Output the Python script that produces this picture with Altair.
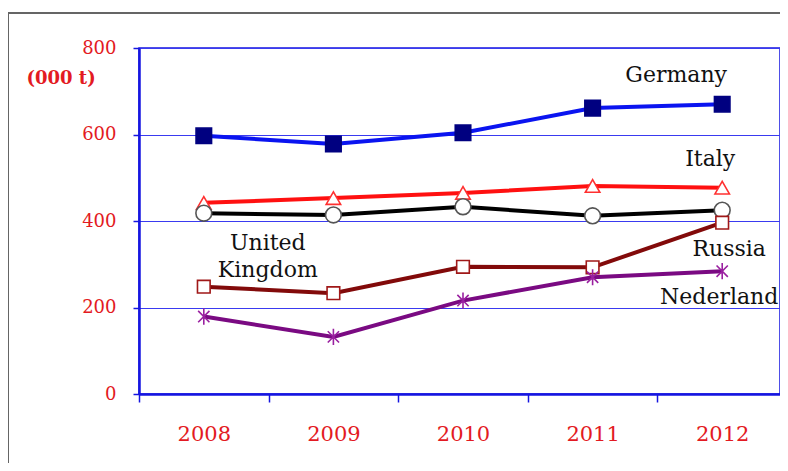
import altair as alt
import pandas as pd

years = ["2008", "2009", "2010", "2011", "2012"]
countries = ["Germany", "Italy", "United Kingdom", "Russia", "Nederland"]
germany = [597, 578, 604, 661, 670]
italy = [442, 453, 465, 481, 477]
united_kingdom = [418, 414, 433, 412, 425]
russia = [248, 233, 294, 293, 396]
nederland = [179, 132, 216, 270, 284]
series = [germany, italy, united_kingdom, russia, nederland]

line_colors = ["#0a14f0", "#ff1010", "#000000", "#820a0a", "#7a0a82"]
shapes = ["square", "triangle-up", "circle", "square",
          "M-0.7,-0.7L0.7,0.7M-0.7,0.7L0.7,-0.7M0,-1L0,1"]
fills = ["#000080", "#ffffff", "#ffffff", "#ffffff", "transparent"]
strokes = ["#000080", "#ff3030", "#555555", "#a01818", "#9a20a0"]
sizes = [240, 210, 250, 160, 260]

label_texts = ["Germany", "Italy", "United", "Kingdom", "Russia", "Nederland"]
label_years = ["2012", "2012", "2008", "2008", "2012", "2012"]
label_values = [721, 527, 333, 270, 319, 208]
label_dx = [-46, -12, 64, 64, 7, -3]

RED = "#e31a22"
BLUE = "#1515e0"
FONT = "DejaVu Serif"

rows = []
for c, vals in zip(countries, series):
    for y, v in zip(years, vals):
        rows.append({"country": c, "year": y, "value": v})
df = pd.DataFrame(rows)

x_scale = alt.Scale(domain=years, range=[0, 648])
x_enc = alt.X("year:N", sort=years, scale=x_scale,
              axis=alt.Axis(title=None, labelAngle=0, tickBand="extent",
                            labelColor=RED, labelFont=FONT, labelFontSize=21,
                            labelPadding=21, tickSize=8, tickColor=BLUE,
                            tickWidth=1.5, domainColor=BLUE, domainWidth=2.5,
                            grid=False))
y_enc = alt.Y("value:Q", scale=alt.Scale(domain=[0, 800], nice=False),
              axis=alt.Axis(values=[0, 200, 400, 600, 800], title="(000 t)",
                            titleAngle=0, titleAlign="left",
                            titleBaseline="alphabetic", titleX=-113, titleY=35,
                            titleColor=RED, titleFont=FONT, titleFontSize=18,
                            titleFontWeight="bold",
                            labelColor=RED, labelFont=FONT, labelFontSize=18,
                            labelPadding=17, tickSize=6, tickColor=BLUE,
                            tickWidth=1.5, domainColor=BLUE, domainWidth=2.5,
                            grid=True, gridColor="#3a3af0", gridWidth=1))

base = alt.Chart(df)
layers = []
for i, c in enumerate(countries):
    sub = base.transform_filter(alt.datum.country == c)
    layers.append(sub.mark_line(color=line_colors[i], strokeWidth=4).encode(x=x_enc, y=y_enc))
for i, c in enumerate(countries):
    sub = base.transform_filter(alt.datum.country == c)
    layers.append(sub.mark_point(shape=shapes[i], filled=(fills[i] != "transparent"),
                                 fill=fills[i], stroke=strokes[i],
                                 strokeWidth=1.6,
                                 size=sizes[i], opacity=1).encode(x=x_enc, y=y_enc))

lab_df = pd.DataFrame({"text": label_texts, "year": label_years,
                       "value": label_values, "dx": label_dx})
for t, dx in zip(label_texts, label_dx):
    layers.append(alt.Chart(lab_df).transform_filter(alt.datum.text == t)
                  .mark_text(font=FONT, fontSize=22, color="#111111",
                             align="center", baseline="alphabetic", dx=dx)
                  .encode(x=alt.X("year:N", sort=years, scale=x_scale),
                          y="value:Q", text="text:N"))

border_v = alt.Chart(df).mark_rule(color="#666666", strokeWidth=1.5).encode(
    x=alt.value(-131), y=alt.value(-35), y2=alt.value(440))
border_h = alt.Chart(df).mark_rule(color="#666666", strokeWidth=1.5).encode(
    x=alt.value(-131), x2=alt.value(660), y=alt.value(-35))
layers = [border_v, border_h] + layers

chart = alt.layer(*layers).properties(
    width=641, height=346,
    autosize=alt.AutoSizeParams(type="none"),
    padding={"left": 131, "top": 40, "right": 0, "bottom": 69},
    background="#ffffff",
).configure_view(stroke=BLUE, strokeWidth=1.5)

chart.save("out.html", embed_options={"renderer": "svg", "actions": False})
